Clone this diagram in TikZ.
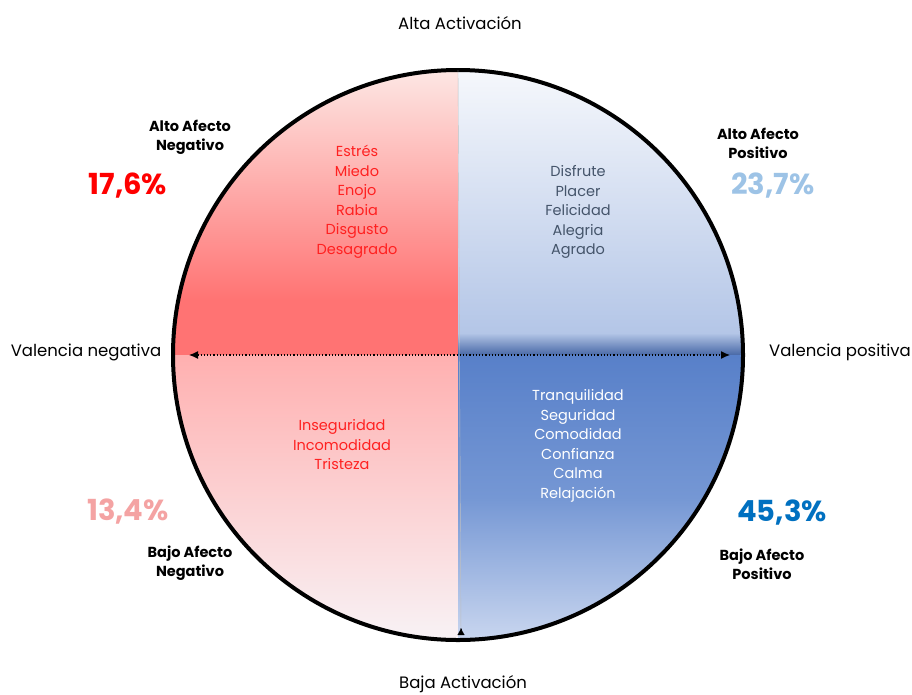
\documentclass[tikz,border=0pt]{standalone}
\usepackage{fontspec}
\setmainfont{Poppins}
\usetikzlibrary{arrows.meta}
\definecolor{negfuerte}{HTML}{FF2020}
\definecolor{negpct}{HTML}{FF0000}
\definecolor{negsuave}{HTML}{F4A3A3}
\definecolor{poscla}{HTML}{9DC3E6}
\definecolor{posfuerte}{HTML}{0070C0}
\definecolor{postexto}{HTML}{44546A}
\definecolor{rojoalto}{HTML}{FDE8E5}
\definecolor{rojomedio}{HTML}{FF7373}
\definecolor{rojobajo}{HTML}{FFB0B0}
\definecolor{rojofondo}{HTML}{F8F2F5}
\definecolor{azulalto}{HTML}{F6F8FC}
\definecolor{azulmedio}{HTML}{B4C6E7}
\definecolor{azuloscuro}{HTML}{4868A6}
\definecolor{azulbajo}{HTML}{5880C9}
\definecolor{azulintermedio}{HTML}{7597D4}
\definecolor{azulfondo}{HTML}{C9D6EF}
\tikzset{eje/.style = {font=\fontsize{16.5}{19}\selectfont}}
\tikzset{cuadro/.style = {font=\bfseries\fontsize{14.5}{19}\selectfont, align=center}}
\tikzset{porcentaje/.style = {font=\bfseries\fontsize{29}{32}\selectfont}}
\tikzset{lista/.style = {font=\fontsize{14.5}{19.5}\selectfont, align=center}}

\begin{document}
\begin{tikzpicture}[x=1pt,y=-1pt]
		\useasboundingbox (0,0) rectangle (912,694);
		% fills of the four quadrants
		\begin{scope}
			\clip (458,355) circle (285);
			\shade[top color=rojoalto, bottom color=rojomedio] (173,68) rectangle (458,300);
			\fill[rojomedio] (173,300) rectangle (458,355);
			\shade[top color=rojobajo, bottom color=rojofondo] (173,355) rectangle (458,640);
			\shade[top color=azulalto, bottom color=azulmedio] (458,68) rectangle (743,333);
			\shade[top color=azulmedio, bottom color=azuloscuro] (458,333) rectangle (743,355);
			\shade[top color=azulbajo, bottom color=azulfondo, middle color=azulintermedio] (458,355) rectangle (743,640);
		\end{scope}

		% circle and axes
		\node[circle, draw, line width=4pt, minimum size=570pt, inner sep=0pt] (circ) at (458,355) {};
		\coordinate (arriba) at (458,70);
		\coordinate (abajo) at (461,637);
		\coordinate (izq) at (189,355);
		\coordinate (der) at (730,355);
		\draw[black!25, thin] (arriba) -- (abajo);
		\draw[-{Latex[length=7pt,width=7pt]}, line width=0.1pt, black] (461,629) -- (461,628);
		\draw[{Latex[length=9pt,width=8pt]}-{Latex[length=9pt,width=8pt]}, dotted, line width=1.2pt] (izq) -- (der);

		% axis labels
		\node[eje] (alta) at (460,23) {Alta Activación};
		\node[eje] (baja) at (463,684) {Baja Activación};
		\node[eje] (vneg) at (86,352) {Valencia negativa};
		\node[eje] (vpos) at (840,352) {Valencia positiva};

		% quadrant labels
		\node[cuadro] (aan) at (190,137) {Alto Afecto\\Negativo};
		\node[cuadro] (aap) at (758,143) {Alto Afecto\\Positivo};
		\node[cuadro] (ban) at (190,563) {Bajo Afecto\\Negativo};
		\node[cuadro] (bap) at (762,564) {Bajo Afecto\\Positivo};

		% percentages
		\node[porcentaje, text=negpct] (paan) at (128,186) {17,6\%};
		\node[porcentaje, text=poscla] (paap) at (773,186) {23,7\%};
		\node[porcentaje, text=negsuave] (pban) at (128,512) {13,4\%};
		\node[porcentaje, text=posfuerte] (pbap) at (782,513) {45,3\%};

		% emotions
		\node[lista, text=negfuerte] (laan) at (357,202) {Estrés\\Miedo\\Enojo\\Rabia\\Disgusto\\Desagrado};
		\node[lista, text=postexto] (laap) at (578,212) {Disfrute\\Placer\\Felicidad\\Alegria\\Agrado};
		\node[lista, text=negfuerte] (lban) at (342,445) {Inseguridad\\Incomodidad\\Tristeza};
		\node[lista, text=white] (lbap) at (578,446) {Tranquilidad\\Seguridad\\Comodidad\\Confianza\\Calma\\Relajación};
	\end{tikzpicture}
\end{document}
